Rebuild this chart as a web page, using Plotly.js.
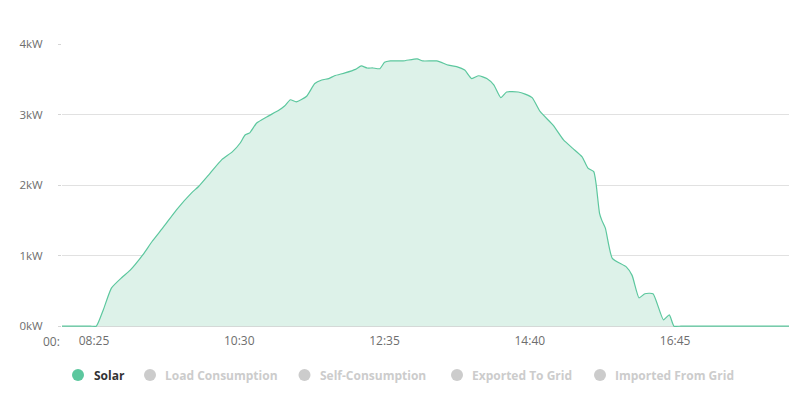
<!DOCTYPE html>
<html>
<head>
<meta charset="utf-8">
<script src="https://cdn.plot.ly/plotly-3.0.1.min.js"></script>
<style>
html,body{margin:0;padding:0;background:#fff;}
#chart{width:789px;height:393px;}
</style>
</head>
<body>
<div id="chart"></div>
<script>
// ---- data ----
const times = ["07:50","08:10","08:22","08:27","08:33","08:40","08:49","08:56","09:07","09:15","09:25","09:36","09:49","09:55",
  "10:05","10:15","10:24","10:31","10:35","10:39","10:45","10:54","11:04","11:09","11:14","11:19","11:28","11:35","11:41",
  "11:47","11:52","12:01","12:10","12:15","12:20","12:25","12:31","12:35","12:40","12:51","13:03","13:08","13:20",
  "13:30","13:37","13:44","13:50","13:56","14:03","14:09","14:15","14:20","14:30","14:36","14:42","14:49","15:00",
  "15:09","15:17","15:25","15:30","15:35","15:37","15:40","15:42","15:45","15:51","16:03","16:08","16:14","16:19",
  "16:26","16:35","16:40","16:44","16:50","17:00","17:30","18:00","18:30"];
const solarKW = [0,0,0,0,0.23,0.54,0.69,0.79,1.01,1.20,1.41,1.65,1.89,1.98,
  2.17,2.36,2.47,2.60,2.71,2.74,2.88,2.97,3.06,3.12,3.21,3.18,3.26,3.44,3.49,
  3.51,3.55,3.59,3.64,3.69,3.66,3.66,3.65,3.74,3.76,3.76,3.79,3.76,3.76,
  3.70,3.68,3.63,3.51,3.55,3.51,3.42,3.24,3.32,3.32,3.29,3.24,3.04,2.85,
  2.64,2.52,2.40,2.24,2.19,2.02,1.60,1.50,1.39,0.96,0.84,0.72,0.40,0.46,
  0.46,0.09,0.16,0,0,0,0,0,0];
const tickLabels = ["08:25","10:30","12:35","14:40","16:45"];
const yTickVals = [0,1,2,3,4];
const yTickText = ["0kW","1kW","2kW","3kW","4kW"];
const seriesNames = ["Solar","Load Consumption","Self-Consumption","Exported To Grid","Imported From Grid"];
const seriesActive = [true,false,false,false,false];

// ---- styles / layout ----
const toMin = s => { const p = s.split(":"); return (+p[0])*60 + (+p[1]); };
const lineColor = "#5cc79e";
const fillColor = "#ddf2e9";
const legendCircleX = [78,150,304.5,457,600];   // px centres
const legendTextX = [92,163,318,470,613];       // px text starts
const legendY = 375;
const W = 789, H = 393;
const mL = 62, mR = 0, mT = 44, mB = 66;
const plotW = W - mL - mR, plotH = H - mT - mB;
const yMin = -0.012, yMax = 4;
const px2paperX = px => (px - mL) / plotW;
const px2paperY = py => (H - mB - py) / plotH;

const trace = {
  x: times.map(toMin),
  y: solarKW,
  type: "scatter",
  mode: "lines",
  line: {color: lineColor, width: 1.2, shape: "spline", smoothing: 0.5},
  fill: "tozeroy",
  fillcolor: fillColor,
  name: seriesNames[0],
  hoverinfo: "skip",
  showlegend: false
};

const shapes = [];
const annotations = [];
seriesNames.forEach((n, i) => {
  const c = seriesActive[i] ? lineColor : "#cccccc";
  shapes.push({
    type: "circle", xref: "paper", yref: "paper",
    xsizemode: "pixel", ysizemode: "pixel",
    xanchor: px2paperX(legendCircleX[i]), yanchor: px2paperY(legendY),
    x0: -6, x1: 6, y0: -6, y1: 6,
    fillcolor: c, line: {width: 0}
  });
  annotations.push({
    xref: "paper", yref: "paper",
    x: px2paperX(legendTextX[i]), y: px2paperY(legendY),
    xanchor: "left", yanchor: "middle", showarrow: false,
    text: "<b>" + n + "</b>",
    font: {family: "Open Sans, sans-serif", size: 12, color: seriesActive[i] ? "#333333" : "#cccccc"}
  });
});
annotations.push({
  xref: "paper", yref: "paper", x: 0, y: px2paperY(341),
  xanchor: "right", yanchor: "middle", showarrow: false,
  text: "00:", font: {family: "Open Sans, sans-serif", size: 12, color: "#6e6e6e"}
});

const layout = {
  width: W, height: H,
  margin: {l: mL, r: mR, t: mT, b: mB, pad: 0},
  paper_bgcolor: "#ffffff", plot_bgcolor: "#ffffff",
  showlegend: false,
  xaxis: {
    type: "linear", range: [477.5, 1103],
    tickvals: tickLabels.map(toMin), ticktext: tickLabels,
    showgrid: false, zeroline: false, showline: false,
    ticks: "", ticklabelstandoff: 5,
    tickfont: {family: "Open Sans, sans-serif", size: 12, color: "#6e6e6e"},
    fixedrange: true
  },
  yaxis: {
    range: [yMin, yMax],
    tickvals: yTickVals, ticktext: yTickText,
    showgrid: true, gridcolor: "#e1e1e1", gridwidth: 1,
    zeroline: true, zerolinecolor: "#d0d0d0", zerolinewidth: 1,
    showline: false, layer: "below traces",
    ticks: "outside", ticklen: 3, tickcolor: "#d5d5d5",
    ticklabelstandoff: 13,
    tickfont: {family: "Open Sans, sans-serif", size: 11.5, color: "#6e6e6e"},
    fixedrange: true
  },
  shapes: shapes,
  annotations: annotations
};

Plotly.newPlot("chart", [trace], layout, {displayModeBar: false, staticPlot: true});
</script>
</body>
</html>
